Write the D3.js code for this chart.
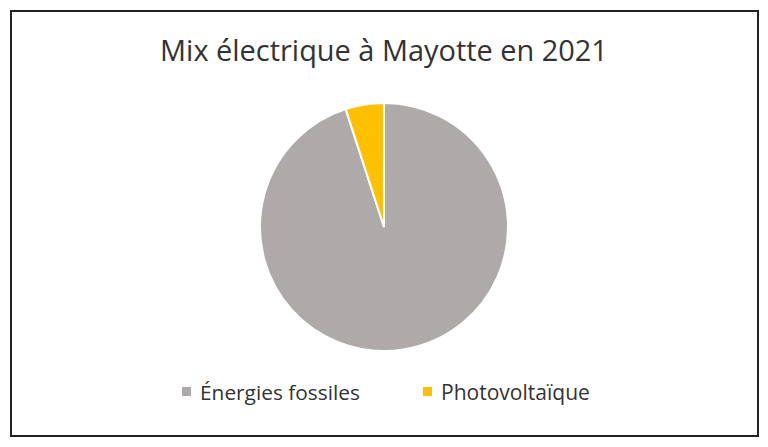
<!DOCTYPE html>
<html><head><meta charset="utf-8">
<script src="https://cdn.jsdelivr.net/npm/d3@7"></script>
<style>body{margin:0;background:#fff;}svg{display:block;}</style>
</head><body>
<svg id="c" width="768" height="447"></svg>
<script>
const categories = ["Énergies fossiles", "Photovoltaïque"];
const values = [95, 5];
const colors = ["#AEAAAA", "#FFC000"];
const title = "Mix électrique à Mayotte en 2021";

const svg = d3.select("#c");
svg.append("rect").attr("x", 11).attr("y", 11).attr("width", 747).attr("height", 425)
  .attr("fill", "#fff").attr("stroke", "#222").attr("stroke-width", 2);

const t = svg.append("text").attr("x", 384).attr("y", 61).attr("text-anchor", "middle")
  .attr("font-family", "Open Sans").attr("font-size", 26).attr("fill", "#333").text(title);
const tw = t.node().getComputedTextLength();
t.attr("font-size", 26 * 448 / tw);

const cx = 384, cy = 227, r = 124;
const pie = d3.pie().sort(null).startAngle(0).endAngle(2 * Math.PI);
const arcs = pie(values);
const arc = d3.arc().innerRadius(0).outerRadius(r);
svg.append("g").attr("transform", `translate(${cx},${cy})`)
  .selectAll("path").data(arcs).join("path")
  .attr("d", arc).attr("fill", (d, i) => colors[i])
  .attr("stroke", "#fff").attr("stroke-width", 2);

const legX = [182, 423];
const legW = [160, 149];
const lg = svg.append("g");
categories.forEach((c, i) => {
  lg.append("rect").attr("x", legX[i]).attr("y", 387).attr("width", 9).attr("height", 9).attr("fill", colors[i]);
  const tx = lg.append("text").attr("x", legX[i] + 18).attr("y", 400).attr("font-family", "Open Sans")
    .attr("font-size", 18).attr("fill", "#333").text(c);
  const w = tx.node().getComputedTextLength();
  tx.attr("font-size", 18 * legW[i] / w);
});
</script>
</body></html>
